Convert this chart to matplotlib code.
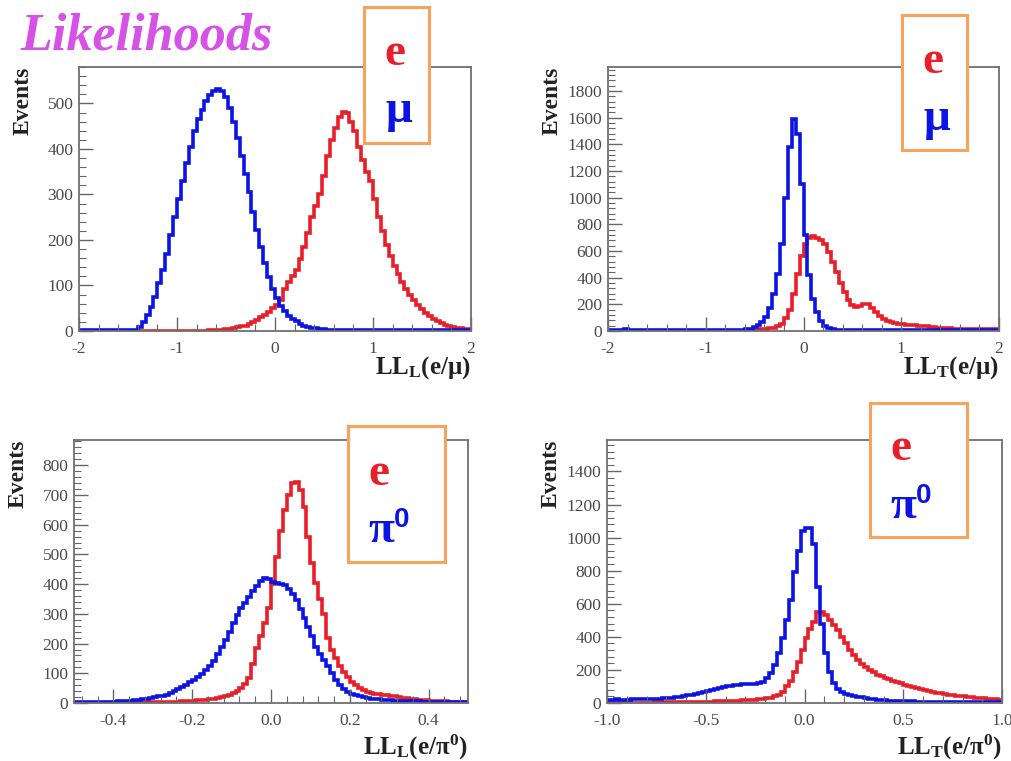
import matplotlib
matplotlib.use("Agg")
import matplotlib.pyplot as plt
import numpy as np
from matplotlib.patches import Rectangle
from matplotlib.ticker import AutoMinorLocator, MultipleLocator, FormatStrFormatter

plt.rcParams['font.family'] = ['Liberation Serif', 'DejaVu Serif']
plt.rcParams['axes.unicode_minus'] = False
plt.rcParams['mathtext.fontset'] = 'custom'
plt.rcParams['mathtext.rm'] = 'Liberation Serif:bold'
plt.rcParams['mathtext.bf'] = 'Liberation Serif:bold'
plt.rcParams['mathtext.it'] = 'Liberation Serif:bold:italic'

# bin edges of the four histograms (100 bins each)
edges_mu = np.linspace(-2, 2, 101)
edges_pi_l = np.linspace(-0.5, 0.5, 101)
edges_pi_t = np.linspace(-1, 1, 101)

# LL_L(e/mu)
ll_l_mu_e = [0, 0, 0, 0, 0, 0, 0, 0, 0, 0,
             0, 0, 0, 0, 0, 0, 0, 0, 0, 0,
             1, 1, 1, 1, 1, 1, 1, 1, 1, 1,
             1, 1, 1, 2, 2, 3, 3, 4, 5, 6,
             8, 10, 12, 15, 20, 25, 30, 36, 42, 50,
             57, 68, 92, 108, 120, 135, 158, 185, 215, 250,
             275, 300, 340, 385, 420, 445, 470, 482, 478, 460,
             440, 405, 375, 350, 330, 290, 250, 220, 190, 165,
             142, 125, 108, 92, 80, 68, 57, 48, 40, 33,
             27, 22, 17, 13, 11, 9, 7, 6, 5, 4]
ll_l_mu_mu = [2, 2, 2, 2, 2, 2, 2, 2, 2, 2,
              2, 2, 2, 2, 3, 8, 20, 35, 52, 75,
              105, 135, 170, 210, 250, 290, 330, 370, 405, 440,
              465, 485, 505, 518, 527, 532, 528, 515, 490, 460,
              425, 385, 345, 305, 262, 222, 185, 150, 118, 92,
              72, 56, 43, 34, 27, 21, 16, 12, 9, 7,
              6, 5, 4, 3, 3, 2, 2, 2, 2, 2,
              2, 2, 2, 2, 2, 2, 2, 2, 2, 2,
              2, 2, 2, 2, 2, 2, 2, 2, 2, 2,
              2, 2, 2, 2, 2, 2, 2, 2, 2, 2]

# LL_T(e/mu)
ll_t_mu_e = [1, 1, 1, 1, 1, 1, 1, 1, 1, 1,
             1, 1, 1, 1, 1, 1, 1, 1, 1, 1,
             1, 1, 1, 1, 1, 1, 1, 1, 1, 1,
             1, 2, 2, 3, 3, 4, 4, 5, 8, 12,
             16, 20, 25, 35, 55, 95, 160, 280, 430, 560,
             650, 700, 715, 700, 680, 650, 590, 520, 440, 360,
             290, 230, 195, 180, 185, 200, 200, 175, 140, 110,
             90, 75, 65, 60, 55, 52, 48, 45, 43, 40,
             37, 34, 30, 27, 24, 22, 20, 19, 18, 18,
             17, 17, 16, 16, 15, 15, 14, 14, 13, 13]
ll_t_mu_mu = [8, 10, 8, 9, 12, 9, 8, 7, 8, 8,
              8, 7, 8, 8, 7, 8, 8, 7, 8, 8,
              8, 8, 7, 8, 8, 8, 7, 8, 8, 8,
              8, 8, 9, 9, 10, 12, 18, 28, 42, 65,
              105, 170, 280, 430, 650, 1000, 1380, 1590, 1480, 1100,
              720, 420, 240, 140, 75, 40, 22, 14, 10, 8,
              7, 7, 6, 6, 6, 6, 6, 6, 6, 6,
              6, 6, 6, 6, 6, 6, 6, 5, 5, 5,
              5, 5, 5, 5, 5, 4, 4, 4, 4, 4,
              4, 4, 4, 4, 4, 4, 4, 4, 4, 4]

# LL_L(e/pi0)
ll_l_pi_e = [1, 1, 1, 1, 1, 1, 1, 1, 1, 1,
             2, 2, 2, 2, 2, 2, 2, 2, 3, 3,
             3, 3, 4, 4, 4, 5, 5, 6, 6, 7,
             8, 9, 10, 11, 13, 15, 17, 20, 24, 28,
             35, 42, 52, 65, 85, 130, 185, 225, 270, 320,
             400, 490, 580, 650, 700, 740, 742, 716, 660, 560,
             470, 405, 350, 300, 220, 180, 150, 125, 105, 88,
             72, 62, 52, 44, 38, 34, 31, 29, 28, 27,
             25, 22, 20, 18, 16, 14, 12, 11, 10, 9,
             8, 7, 7, 6, 6, 5, 5, 4, 4, 4]
ll_l_pi_pi = [3, 3, 3, 4, 3, 4, 4, 4, 5, 5,
              5, 6, 6, 7, 8, 9, 10, 12, 14, 17,
              19, 22, 25, 28, 34, 40, 47, 55, 62, 70,
              78, 86, 96, 110, 126, 143, 165, 188, 212, 240,
              270, 297, 318, 338, 357, 377, 395, 412, 420, 418,
              408, 404, 400, 396, 385, 368, 347, 315, 285, 255,
              225, 190, 165, 145, 125, 100, 78, 62, 48, 38,
              31, 26, 22, 19, 17, 15, 13, 12, 11, 10,
              9, 8, 8, 7, 7, 6, 6, 6, 5, 5,
              5, 4, 4, 4, 4, 4, 3, 3, 3, 3]

# LL_T(e/pi0)
ll_t_pi_e = [2, 2, 2, 2, 2, 2, 2, 3, 3, 3,
             3, 3, 4, 4, 4, 5, 5, 5, 6, 6,
             6, 7, 7, 8, 8, 9, 9, 10, 10, 11,
             12, 13, 14, 15, 16, 17, 18, 20, 22, 24,
             28, 32, 40, 50, 65, 100, 135, 190, 250, 320,
             390, 450, 490, 550, 550, 530, 500, 470, 440, 400,
             360, 320, 290, 260, 235, 215, 200, 185, 172, 162,
             152, 143, 134, 126, 118, 110, 102, 95, 88, 82,
             76, 71, 66, 62, 58, 54, 51, 48, 45, 42,
             40, 37, 34, 32, 30, 28, 26, 24, 22, 20]
ll_t_pi_pi = [18, 20, 22, 20, 18, 20, 22, 24, 22, 22,
              24, 26, 25, 27, 28, 30, 32, 35, 38, 42,
              46, 50, 55, 60, 66, 72, 78, 84, 90, 96,
              100, 104, 108, 110, 112, 112, 114, 116, 118, 125,
              150, 180, 230, 300, 390, 500, 620, 790, 920, 1040,
              1060, 1060, 960, 700, 480, 300, 190, 120, 85, 65,
              55, 48, 42, 38, 34, 30, 26, 23, 21, 19,
              17, 15, 14, 13, 12, 11, 10, 10, 9, 9,
              8, 8, 7, 7, 7, 6, 6, 6, 5, 5,
              5, 5, 5, 4, 4, 4, 4, 4, 4, 4]

RED = '#e81e28'
BLUE = '#0c14e4'
LW = 2.6
W, H = 1011, 761

fig = plt.figure(figsize=(W / 100, H / 100), dpi=100)


def px_axes(left, top, right, bottom):
    return fig.add_axes([left / W, 1 - bottom / H, (right - left) / W, (bottom - top) / H])


def style(ax, xlim, ylim, xmajor, ymajor, xfmt):
    ax.set_xlim(*xlim)
    ax.set_ylim(*ylim)
    ax.xaxis.set_major_locator(MultipleLocator(xmajor))
    ax.yaxis.set_major_locator(MultipleLocator(ymajor))
    ax.xaxis.set_minor_locator(AutoMinorLocator(5))
    ax.yaxis.set_minor_locator(AutoMinorLocator(5))
    ax.xaxis.set_major_formatter(FormatStrFormatter(xfmt))
    ax.tick_params(which='both', direction='in', top=False, right=False,
                   color='#666666', labelcolor='#4a4a4a', labelsize=12.5)
    ax.tick_params(which='major', length=10, width=1)
    ax.tick_params(which='minor', length=5, width=0.8)
    ax.tick_params(axis='x', pad=7)
    ax.tick_params(axis='y', pad=4)
    for sp in ax.spines.values():
        sp.set_color('#707070')
        sp.set_linewidth(1.3)
    ax.text(-0.142, 1.0, 'Events', transform=ax.transAxes, rotation=90,
            ha='center', va='top', fontsize=17, fontweight='bold', color='#222222')


def xlabel(ax, txt, y):
    ax.text(1.0, y, txt, transform=ax.transAxes, ha='right', va='center',
            fontsize=18, fontweight='bold', color='#222222')


def legend_box(x0, y0, x1, y1):
    fig.patches.append(Rectangle((x0 / W, 1 - y1 / H), (x1 - x0) / W, (y1 - y0) / H,
                                 transform=fig.transFigure, facecolor='white',
                                 edgecolor='#f7a35c', linewidth=2.2, zorder=5))


def ftext(x, y, s, **kw):
    fig.text(x / W, 1 - y / H, s, zorder=6, **kw)


# top left
ax1 = px_axes(79, 67, 471, 331)
ax1.stairs(ll_l_mu_e, edges_mu, color=RED, lw=LW)
ax1.stairs(ll_l_mu_mu, edges_mu, color=BLUE, lw=LW)
style(ax1, (-2, 2), (0, 580), 1, 100, '%d')
xlabel(ax1, 'LL$_{\\mathregular{L}}$(e/\u03bc)', -0.14)

# top right
ax2 = px_axes(608, 67, 999, 331)
ax2.stairs(ll_t_mu_e, edges_mu, color=RED, lw=LW)
ax2.stairs(ll_t_mu_mu, edges_mu, color=BLUE, lw=LW)
style(ax2, (-2, 2), (0, 1980), 1, 200, '%d')
xlabel(ax2, 'LL$_{\\mathregular{T}}$(e/\u03bc)', -0.14)

# bottom left
ax3 = px_axes(74, 440, 468, 703)
ax3.stairs(ll_l_pi_e, edges_pi_l, color=RED, lw=LW)
ax3.stairs(ll_l_pi_pi, edges_pi_l, color=BLUE, lw=LW)
style(ax3, (-0.5, 0.5), (0, 885), 0.2, 100, '%.1f')
xlabel(ax3, 'LL$_{\\mathregular{L}}$(e/\u03c0$^{\\mathregular{0}}$)', -0.17)

# bottom right
ax4 = px_axes(607, 440, 1002, 703)
ax4.stairs(ll_t_pi_e, edges_pi_t, color=RED, lw=LW)
ax4.stairs(ll_t_pi_pi, edges_pi_t, color=BLUE, lw=LW)
style(ax4, (-1, 1), (0, 1590), 0.5, 200, '%.1f')
xlabel(ax4, 'LL$_{\\mathregular{T}}$(e/\u03c0$^{\\mathregular{0}}$)', -0.17)

# title
ftext(20, 49, 'Likelihoods', fontsize=37.5, fontweight='bold', fontstyle='italic',
      color='#d651e6', va='baseline')

# legend boxes
big = dict(fontsize=34, fontweight='bold', va='baseline', ha='center')
sup = dict(fontsize=20, fontweight='bold', va='baseline', ha='left',
           family=['Liberation Sans', 'DejaVu Sans'], color=BLUE)

legend_box(364, 7, 429, 143)
ftext(395, 65, 'e', color=RED, **big)
ftext(399, 122, '\u03bc', color=BLUE, **big)

legend_box(902, 15, 967, 150)
ftext(933, 73, 'e', color=RED, **big)
ftext(937, 130, '\u03bc', color=BLUE, **big)

legend_box(348, 426, 445, 562)
ftext(379, 485, 'e', color=RED, **big)
ftext(381, 542, '\u03c0', color=BLUE, **big)
ftext(394, 527, '0', **sup)

legend_box(870, 403, 967, 537)
ftext(901, 460, 'e', color=RED, **big)
ftext(903, 518, '\u03c0', color=BLUE, **big)
ftext(916, 503, '0', **sup)

fig.savefig('out.png', dpi=100, facecolor='white')
